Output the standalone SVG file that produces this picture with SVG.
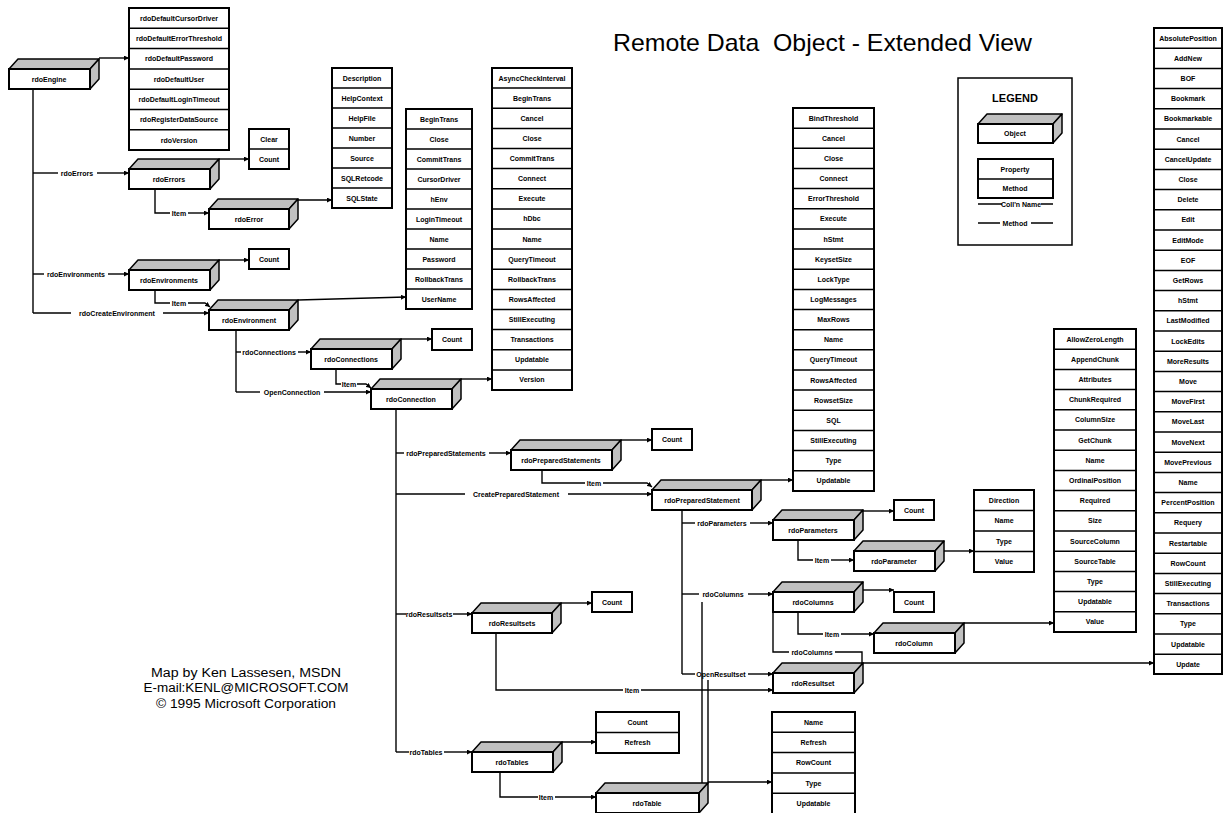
<svg xmlns="http://www.w3.org/2000/svg" width="1225" height="813" viewBox="0 0 1225 813">
<defs>
<marker id="ah" markerWidth="6" markerHeight="5" refX="5" refY="2.5" orient="auto" markerUnits="userSpaceOnUse"><path d="M0,0 L5,2.5 L0,5z" fill="#000"/></marker>
<style>
.face{fill:#c0c0c0;stroke:#000;stroke-width:1.5;stroke-linejoin:round}
.front{fill:#fff;stroke:#000;stroke-width:2}
.tb{fill:#fff;stroke:#000;stroke-width:2}
.rl{fill:none;stroke:#000;stroke-width:1.5}
.ln{fill:none;stroke:#000;stroke-width:1.4}
.ar{marker-end:url(#ah)}
text{font-family:"Liberation Sans",Arial,sans-serif;fill:#000}
.t{font-size:7px;font-weight:bold;text-anchor:middle}
.title{font-size:24px}
.credit{font-size:12.5px;text-anchor:middle}
</style>
</defs>
<rect width="1225" height="813" fill="#fff"/>
<text class="title" x="613" y="51" textLength="419" lengthAdjust="spacingAndGlyphs" xml:space="preserve">Remote Data  Object - Extended View</text>
<g id="credit">
<text class="credit" x="246" y="677" textLength="190" lengthAdjust="spacingAndGlyphs">Map by Ken Lassesen, MSDN</text>
<text class="credit" x="246" y="692" textLength="205" lengthAdjust="spacingAndGlyphs">E-mail:KENL@MICROSOFT.COM</text>
<text class="credit" x="246" y="708" textLength="180" lengthAdjust="spacingAndGlyphs">© 1995 Microsoft Corporation</text>
</g>

<g id="connectors">
<path class="ln ar" d="M99,58 H129"/>
<path class="ln" d="M33,89 V313"/>
<path class="ln" d="M33,173 H58"/><path class="ln ar" d="M97,173 H129"/>
<text class="t" x="77" y="175.5">rdoErrors</text>
<path class="ln ar" d="M219,159 H249"/>
<path class="ln" d="M155,189 V213 H170"/><path class="ln ar" d="M188,213 H209"/>
<text class="t" x="179" y="215.5">Item</text>
<path class="ln ar" d="M298,200 H332"/>
<path class="ln" d="M33,274 H44"/><path class="ln ar" d="M108,274 H129"/>
<text class="t" x="76" y="276.5">rdoEnvironments</text>
<path class="ln ar" d="M219,260 H249"/>
<path class="ln" d="M155,290 V303 H170"/><path class="ln ar" d="M188,303 H205 L210,307"/>
<text class="t" x="179" y="305.5">Item</text>
<path class="ln" d="M33,313 H71"/><path class="ln ar" d="M163,313 H209"/>
<text class="t" x="117" y="315.5">rdoCreateEnvironment</text>
<path class="ln ar" d="M298,300 L406,297"/>
<path class="ln" d="M236,330 V392"/>
<path class="ln" d="M236,352 H241"/><path class="ln ar" d="M298,352 H311"/>
<text class="t" x="269" y="354.5">rdoConnections</text>
<path class="ln" d="M236,392 H260"/><path class="ln ar" d="M324,392 H371"/>
<text class="t" x="292" y="394.5">OpenConnection</text>
<path class="ln ar" d="M401,339 H432"/>
<path class="ln" d="M336,369 V384 H341"/><path class="ln ar" d="M357,384 H366 L371,388"/>
<text class="t" x="349" y="386.5">Item</text>
<path class="ln ar" d="M461,379 H492"/>
<path class="ln" d="M396,409 V752"/>
<path class="ln" d="M396,453 H404"/><path class="ln ar" d="M489,453 H511"/>
<text class="t" x="446" y="455.5">rdoPreparedStatements</text>
<path class="ln" d="M396,494 H465"/><path class="ln ar" d="M568,494 H652"/>
<text class="t" x="516" y="496.5">CreatePreparedStatement</text>
<path class="ln ar" d="M621,440 H652"/>
<path class="ln" d="M542,470 V483 H585"/><path class="ln ar" d="M603,483 H647 L652,487"/>
<text class="t" x="594" y="485.5">Item</text>
<path class="ln ar" d="M761,480 H793"/>
<path class="ln" d="M682,510 V674"/>
<path class="ln" d="M682,523 H695"/><path class="ln ar" d="M750,523 H773"/>
<text class="t" x="722" y="525.5">rdoParameters</text>
<path class="ln ar" d="M863,511 H894"/>
<path class="ln" d="M798,540 V560 H813"/><path class="ln ar" d="M831,560 H854"/>
<text class="t" x="822" y="562.5">Item</text>
<path class="ln ar" d="M944,551 H974"/>
<path class="ln" d="M682,594 H699"/><path class="ln ar" d="M748,594 H773"/>
<text class="t" x="723" y="596.5">rdoColumns</text>
<path class="ln ar" d="M863,590 H894"/>
<path class="ln" d="M798,612 V634 H823"/><path class="ln ar" d="M841,634 H874"/>
<text class="t" x="832" y="636.5">Item</text>
<path class="ln ar" d="M964,623 H1054"/>
<path class="ln" d="M862,663 V652 H835"/><path class="ln" d="M789,652 H773 V612"/>
<text class="t" x="812" y="654.5">rdoColumns</text>
<path class="ln" d="M682,674 H695"/><path class="ln ar" d="M748,674 H773"/>
<text class="t" x="721" y="676.5">OpenResultset</text>
<path class="ln ar" d="M863,663 H1154"/>
<path class="ln" d="M396,614 H406"/><path class="ln ar" d="M453,614 H472"/>
<text class="t" x="429" y="616.5">rdoResultsets</text>
<path class="ln ar" d="M561,603 H592"/>
<path class="ln" d="M496,633 V690 H623"/><path class="ln ar" d="M641,690 H773"/>
<text class="t" x="632" y="692.5">Item</text>
<path class="ln" d="M396,752 H409"/><path class="ln ar" d="M444,752 H472"/>
<text class="t" x="426" y="754.5">rdoTables</text>
<path class="ln ar" d="M562,742 H596"/>
<path class="ln" d="M500,772 V797 H538"/><path class="ln ar" d="M555,797 H596"/>
<text class="t" x="546" y="799.5">Item</text>
<path class="ln ar" d="M708,782 H772"/>
<path class="ln" d="M702,783 V602"/>
<path class="ln" d="M708,783 V680"/>
</g>

<g id="rdoEngine"><polygon class="face" points="9,69 18,59 99,59 90,69"/><polygon class="face" points="90,69 99,59 99,79 90,89"/><rect class="front" x="9" y="69" width="81" height="20"/><text class="t" x="49" y="81.5">rdoEngine</text></g>
<g id="rdoErrors"><polygon class="face" points="129,169 138,159 219,159 210,169"/><polygon class="face" points="210,169 219,159 219,179 210,189"/><rect class="front" x="129" y="169" width="81" height="20"/><text class="t" x="169" y="181.5">rdoErrors</text></g>
<g id="rdoError"><polygon class="face" points="209,209 218,199 298,199 289,209"/><polygon class="face" points="289,209 298,199 298,219 289,229"/><rect class="front" x="209" y="209" width="80" height="20"/><text class="t" x="249" y="221.5">rdoError</text></g>
<g id="rdoEnvironments"><polygon class="face" points="129,270 138,260 219,260 210,270"/><polygon class="face" points="210,270 219,260 219,280 210,290"/><rect class="front" x="129" y="270" width="81" height="20"/><text class="t" x="169" y="282.5">rdoEnvironments</text></g>
<g id="rdoEnvironment"><polygon class="face" points="209,310 218,300 298,300 289,310"/><polygon class="face" points="289,310 298,300 298,320 289,330"/><rect class="front" x="209" y="310" width="80" height="20"/><text class="t" x="249" y="322.5">rdoEnvironment</text></g>
<g id="rdoConnections"><polygon class="face" points="311,349 320,339 401,339 392,349"/><polygon class="face" points="392,349 401,339 401,359 392,369"/><rect class="front" x="311" y="349" width="81" height="20"/><text class="t" x="351" y="361.5">rdoConnections</text></g>
<g id="rdoConnection"><polygon class="face" points="371,389 380,379 461,379 452,389"/><polygon class="face" points="452,389 461,379 461,399 452,409"/><rect class="front" x="371" y="389" width="81" height="20"/><text class="t" x="411" y="401.5">rdoConnection</text></g>
<g id="rdoPreparedStatements"><polygon class="face" points="511,450 520,440 621,440 612,450"/><polygon class="face" points="612,450 621,440 621,460 612,470"/><rect class="front" x="511" y="450" width="101" height="20"/><text class="t" x="561" y="462.5">rdoPreparedStatements</text></g>
<g id="rdoPreparedStatement"><polygon class="face" points="652,490 661,480 761,480 752,490"/><polygon class="face" points="752,490 761,480 761,500 752,510"/><rect class="front" x="652" y="490" width="100" height="20"/><text class="t" x="702" y="502.5">rdoPreparedStatement</text></g>
<g id="rdoParameters"><polygon class="face" points="773,520 782,510 863,510 854,520"/><polygon class="face" points="854,520 863,510 863,530 854,540"/><rect class="front" x="773" y="520" width="81" height="20"/><text class="t" x="813" y="532.5">rdoParameters</text></g>
<g id="rdoParameter"><polygon class="face" points="854,551 863,541 944,541 935,551"/><polygon class="face" points="935,551 944,541 944,561 935,571"/><rect class="front" x="854" y="551" width="81" height="20"/><text class="t" x="894" y="563.5">rdoParameter</text></g>
<g id="rdoColumns"><polygon class="face" points="773,592 782,582 863,582 854,592"/><polygon class="face" points="854,592 863,582 863,602 854,612"/><rect class="front" x="773" y="592" width="81" height="20"/><text class="t" x="813" y="604.5">rdoColumns</text></g>
<g id="rdoColumn"><polygon class="face" points="874,633 883,623 964,623 955,633"/><polygon class="face" points="955,633 964,623 964,643 955,653"/><rect class="front" x="874" y="633" width="81" height="20"/><text class="t" x="914" y="645.5">rdoColumn</text></g>
<g id="rdoResultset"><polygon class="face" points="773,673 782,663 863,663 854,673"/><polygon class="face" points="854,673 863,663 863,683 854,693"/><rect class="front" x="773" y="673" width="81" height="20"/><text class="t" x="813" y="685.5">rdoResultset</text></g>
<g id="rdoResultsets"><polygon class="face" points="472,613 481,603 561,603 552,613"/><polygon class="face" points="552,613 561,603 561,623 552,633"/><rect class="front" x="472" y="613" width="80" height="20"/><text class="t" x="512" y="625.5">rdoResultsets</text></g>
<g id="rdoTables"><polygon class="face" points="472,752 481,742 562,742 553,752"/><polygon class="face" points="553,752 562,742 562,762 553,772"/><rect class="front" x="472" y="752" width="81" height="20"/><text class="t" x="512" y="764.5">rdoTables</text></g>
<g id="rdoTable"><polygon class="face" points="596,793 605,783 708,783 699,793"/><polygon class="face" points="699,793 708,783 708,803 699,813"/><rect class="front" x="596" y="793" width="103" height="20"/><text class="t" x="647" y="805.5">rdoTable</text></g>

<g id="props-rdoEngine"><rect class="tb" x="129" y="8" width="100" height="142"/><path class="rl" d="M129,28.3h100M129,48.6h100M129,68.9h100M129,89.2h100M129,109.5h100M129,129.8h100"/>
<text class="t" x="179" y="20.7">rdoDefaultCursorDriver</text><text class="t" x="179" y="41">rdoDefaultErrorThreshold</text><text class="t" x="179" y="61.3">rdoDefaultPassword</text><text class="t" x="179" y="81.6">rdoDefaultUser</text><text class="t" x="179" y="101.9">rdoDefaultLoginTimeout</text><text class="t" x="179" y="122.2">rdoRegisterDataSource</text><text class="t" x="179" y="142.5">rdoVersion</text></g>
<g id="props-rdoErrors"><rect class="tb" x="249" y="129" width="40" height="40"/><path class="rl" d="M249,149h40"/><text class="t" x="269" y="141.5">Clear</text><text class="t" x="269" y="161.5">Count</text></g>
<g id="props-rdoEnvironments"><rect class="tb" x="249" y="249" width="40" height="20"/><text class="t" x="269" y="261.5">Count</text></g>
<g id="props-rdoError"><rect class="tb" x="332" y="68" width="60" height="140"/><path class="rl" d="M332,88h60M332,108h60M332,128h60M332,148h60M332,168h60M332,188h60"/>
<text class="t" x="362" y="80.5">Description</text><text class="t" x="362" y="100.5">HelpContext</text><text class="t" x="362" y="120.5">HelpFile</text><text class="t" x="362" y="140.5">Number</text><text class="t" x="362" y="160.5">Source</text><text class="t" x="362" y="180.5">SQLRetcode</text><text class="t" x="362" y="200.5">SQLState</text></g>
<g id="props-rdoEnvironment"><rect class="tb" x="406" y="109" width="66" height="200"/><path class="rl" d="M406,129h66M406,149h66M406,169h66M406,189h66M406,209h66M406,229h66M406,249h66M406,269h66M406,289h66"/>
<text class="t" x="439" y="121.5">BeginTrans</text><text class="t" x="439" y="141.5">Close</text><text class="t" x="439" y="161.5">CommitTrans</text><text class="t" x="439" y="181.5">CursorDriver</text><text class="t" x="439" y="201.5">hEnv</text><text class="t" x="439" y="221.5">LoginTimeout</text><text class="t" x="439" y="241.5">Name</text><text class="t" x="439" y="261.5">Password</text><text class="t" x="439" y="281.5">RollbackTrans</text><text class="t" x="439" y="301.5">UserName</text></g>
<g id="props-rdoConnections"><rect class="tb" x="432" y="329" width="40" height="21"/><text class="t" x="452" y="342">Count</text></g>
<g id="props-rdoConnection"><rect class="tb" x="492" y="68" width="80" height="322"/><path class="rl" d="M492,88.1h80M492,108.3h80M492,128.4h80M492,148.5h80M492,168.6h80M492,188.8h80M492,208.9h80M492,229h80M492,249.1h80M492,269.3h80M492,289.4h80M492,309.5h80M492,329.6h80M492,349.8h80M492,369.9h80"/>
<text class="t" x="532" y="80.6">AsyncCheckInterval</text><text class="t" x="532" y="100.7">BeginTrans</text><text class="t" x="532" y="120.8">Cancel</text><text class="t" x="532" y="140.9">Close</text><text class="t" x="532" y="161.1">CommitTrans</text><text class="t" x="532" y="181.2">Connect</text><text class="t" x="532" y="201.3">Execute</text><text class="t" x="532" y="221.4">hDbc</text><text class="t" x="532" y="241.6">Name</text><text class="t" x="532" y="261.7">QueryTimeout</text><text class="t" x="532" y="281.8">RollbackTrans</text><text class="t" x="532" y="301.9">RowsAffected</text><text class="t" x="532" y="322.1">StillExecuting</text><text class="t" x="532" y="342.2">Transactions</text><text class="t" x="532" y="362.3">Updatable</text><text class="t" x="532" y="382.4">Version</text></g>
<g id="props-rdoPreparedStatements"><rect class="tb" x="652" y="429" width="40" height="21"/><text class="t" x="672" y="442">Count</text></g>
<g id="props-rdoPreparedStatement"><rect class="tb" x="793" y="108" width="81" height="383"/><path class="rl" d="M793,128.2h81M793,148.3h81M793,168.5h81M793,188.6h81M793,208.8h81M793,228.9h81M793,249.1h81M793,269.2h81M793,289.4h81M793,309.5h81M793,329.7h81M793,349.8h81M793,370h81M793,390.1h81M793,410.3h81M793,430.4h81M793,450.6h81M793,470.7h81"/>
<text class="t" x="833.5" y="120.6">BindThreshold</text><text class="t" x="833.5" y="140.7">Cancel</text><text class="t" x="833.5" y="160.9">Close</text><text class="t" x="833.5" y="181">Connect</text><text class="t" x="833.5" y="201.2">ErrorThreshold</text><text class="t" x="833.5" y="221.3">Execute</text><text class="t" x="833.5" y="241.5">hStmt</text><text class="t" x="833.5" y="261.6">KeysetSize</text><text class="t" x="833.5" y="281.8">LockType</text><text class="t" x="833.5" y="301.9">LogMessages</text><text class="t" x="833.5" y="322.1">MaxRows</text><text class="t" x="833.5" y="342.2">Name</text><text class="t" x="833.5" y="362.4">QueryTimeout</text><text class="t" x="833.5" y="382.5">RowsAffected</text><text class="t" x="833.5" y="402.7">RowsetSize</text><text class="t" x="833.5" y="422.8">SQL</text><text class="t" x="833.5" y="443">StillExecuting</text><text class="t" x="833.5" y="463.1">Type</text><text class="t" x="833.5" y="483.3">Updatable</text></g>
<g id="props-rdoParameters"><rect class="tb" x="894" y="500" width="40" height="20"/><text class="t" x="914" y="512.5">Count</text></g>
<g id="props-rdoParameter"><rect class="tb" x="974" y="490" width="60" height="82"/><path class="rl" d="M974,510.5h60M974,531h60M974,551.5h60"/>
<text class="t" x="1004" y="502.8">Direction</text><text class="t" x="1004" y="523.3">Name</text><text class="t" x="1004" y="543.8">Type</text><text class="t" x="1004" y="564.3">Value</text></g>
<g id="props-rdoColumns"><rect class="tb" x="894" y="592" width="40" height="20"/><text class="t" x="914" y="604.5">Count</text></g>
<g id="props-rdoColumn"><rect class="tb" x="1054" y="329" width="82" height="303"/><path class="rl" d="M1054,349.2h82M1054,369.4h82M1054,389.6h82M1054,409.8h82M1054,430h82M1054,450.2h82M1054,470.4h82M1054,490.6h82M1054,510.8h82M1054,531h82M1054,551.2h82M1054,571.4h82M1054,591.6h82M1054,611.8h82"/>
<text class="t" x="1095" y="341.6">AllowZeroLength</text><text class="t" x="1095" y="361.8">AppendChunk</text><text class="t" x="1095" y="382">Attributes</text><text class="t" x="1095" y="402.2">ChunkRequired</text><text class="t" x="1095" y="422.4">ColumnSize</text><text class="t" x="1095" y="442.6">GetChunk</text><text class="t" x="1095" y="462.8">Name</text><text class="t" x="1095" y="483">OrdinalPosition</text><text class="t" x="1095" y="503.2">Required</text><text class="t" x="1095" y="523.4">Size</text><text class="t" x="1095" y="543.6">SourceColumn</text><text class="t" x="1095" y="563.8">SourceTable</text><text class="t" x="1095" y="584">Type</text><text class="t" x="1095" y="604.2">Updatable</text><text class="t" x="1095" y="624.4">Value</text></g>
<g id="props-rdoResultsets"><rect class="tb" x="592" y="592" width="40" height="20"/><text class="t" x="612" y="604.5">Count</text></g>
<g id="props-rdoResultset"><rect class="tb" x="1154" y="28" width="68" height="646"/><path class="rl" d="M1154,48.2h68M1154,68.4h68M1154,88.6h68M1154,108.8h68M1154,129h68M1154,149.2h68M1154,169.4h68M1154,189.6h68M1154,209.8h68M1154,230h68M1154,250.2h68M1154,270.4h68M1154,290.6h68M1154,310.8h68M1154,331h68M1154,351.2h68M1154,371.4h68M1154,391.6h68M1154,411.8h68M1154,432h68M1154,452.2h68M1154,472.4h68M1154,492.6h68M1154,512.8h68M1154,533h68M1154,553.2h68M1154,573.4h68M1154,593.6h68M1154,613.8h68M1154,634h68M1154,654.2h68"/>
<text class="t" x="1188" y="40.6">AbsolutePosition</text><text class="t" x="1188" y="60.8">AddNew</text><text class="t" x="1188" y="81">BOF</text><text class="t" x="1188" y="101.2">Bookmark</text><text class="t" x="1188" y="121.4">Bookmarkable</text><text class="t" x="1188" y="141.6">Cancel</text><text class="t" x="1188" y="161.8">CancelUpdate</text><text class="t" x="1188" y="182">Close</text><text class="t" x="1188" y="202.2">Delete</text><text class="t" x="1188" y="222.4">Edit</text><text class="t" x="1188" y="242.6">EditMode</text><text class="t" x="1188" y="262.8">EOF</text><text class="t" x="1188" y="283">GetRows</text><text class="t" x="1188" y="303.2">hStmt</text><text class="t" x="1188" y="323.4">LastModified</text><text class="t" x="1188" y="343.6">LockEdits</text><text class="t" x="1188" y="363.8">MoreResults</text><text class="t" x="1188" y="384">Move</text><text class="t" x="1188" y="404.2">MoveFirst</text><text class="t" x="1188" y="424.4">MoveLast</text><text class="t" x="1188" y="444.6">MoveNext</text><text class="t" x="1188" y="464.8">MovePrevious</text><text class="t" x="1188" y="485">Name</text><text class="t" x="1188" y="505.2">PercentPosition</text><text class="t" x="1188" y="525.4">Requery</text><text class="t" x="1188" y="545.6">Restartable</text><text class="t" x="1188" y="565.8">RowCount</text><text class="t" x="1188" y="586">StillExecuting</text><text class="t" x="1188" y="606.2">Transactions</text><text class="t" x="1188" y="626.4">Type</text><text class="t" x="1188" y="646.6">Updatable</text><text class="t" x="1188" y="666.8">Update</text></g>
<g id="props-rdoTables"><rect class="tb" x="596" y="712" width="83" height="41"/><path class="rl" d="M596,732.5h83"/><text class="t" x="637.5" y="724.8">Count</text><text class="t" x="637.5" y="745.3">Refresh</text></g>
<g id="props-rdoTable"><rect class="tb" x="772" y="712" width="83" height="102"/><path class="rl" d="M772,732.3h83M772,752.6h83M772,772.9h83M772,793.2h83"/>
<text class="t" x="813.5" y="724.7">Name</text><text class="t" x="813.5" y="745">Refresh</text><text class="t" x="813.5" y="765.3">RowCount</text><text class="t" x="813.5" y="785.6">Type</text><text class="t" x="813.5" y="805.9">Updatable</text></g>

<g id="legend">
<rect x="958" y="78" width="114" height="167" fill="#fff" stroke="#000" stroke-width="1.5"/>
<text x="1015" y="102" font-size="11" font-weight="bold" text-anchor="middle">LEGEND</text>
<polygon class="face" points="978,124 987,114 1062,114 1053,124"/><polygon class="face" points="1053,124 1062,114 1062,133 1053,143"/><rect class="front" x="978" y="124" width="75" height="19"/><text class="t" x="1015" y="136">Object</text>
<rect class="tb" x="978" y="159" width="75" height="39"/><path class="rl" d="M978,179h75"/><text class="t" x="1015" y="171.5">Property</text><text class="t" x="1015" y="191">Method</text>
<path class="ln" d="M978,204 H1002 M1041,204 H1053"/><text class="t" x="1021" y="206.5">Coll'n Name</text>
<path class="ln" d="M978,223 H1000 M1031,223 H1053"/><text class="t" x="1015" y="225.5">Method</text>
</g>
</svg>
